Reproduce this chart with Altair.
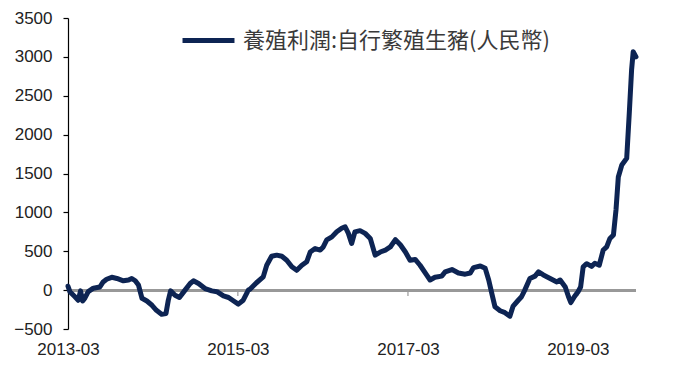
import altair as alt
import pandas as pd

dates = [
    "2013-03-01", "2013-03-09", "2013-03-31", "2013-04-14", "2013-04-24", "2013-05-03",
    "2013-05-13", "2013-05-27", "2013-06-18", "2013-07-16", "2013-07-30", "2013-08-14",
    "2013-09-05", "2013-09-27", "2013-10-25", "2013-11-16", "2013-11-30", "2013-12-15",
    "2013-12-29", "2014-01-13", "2014-02-03", "2014-02-25", "2014-03-16", "2014-04-07",
    "2014-04-26", "2014-05-06", "2014-05-16", "2014-06-04", "2014-06-23", "2014-07-17",
    "2014-08-08", "2014-08-22", "2014-09-13", "2014-10-11", "2014-11-09", "2014-12-01",
    "2014-12-29", "2015-01-20", "2015-02-11", "2015-03-03", "2015-03-24", "2015-04-15",
    "2015-04-22", "2015-05-20", "2015-06-18", "2015-07-03", "2015-07-24", "2015-08-15",
    "2015-09-06", "2015-09-27", "2015-10-19", "2015-11-09", "2015-12-01", "2015-12-22",
    "2016-01-06", "2016-01-27", "2016-02-18", "2016-03-02", "2016-03-17", "2016-04-08",
    "2016-04-29", "2016-05-20", "2016-06-04", "2016-06-18", "2016-07-02", "2016-07-16",
    "2016-08-07", "2016-08-29", "2016-09-20", "2016-10-11", "2016-11-02", "2016-11-24",
    "2016-12-15", "2017-01-06", "2017-01-28", "2017-02-18", "2017-03-10", "2017-04-01",
    "2017-04-22", "2017-05-20", "2017-06-04", "2017-06-25", "2017-07-24", "2017-08-08",
    "2017-09-06", "2017-10-04", "2017-11-02", "2017-11-24", "2017-12-08", "2018-01-06",
    "2018-01-27", "2018-02-11", "2018-02-26", "2018-03-10", "2018-04-01", "2018-04-22",
    "2018-05-13", "2018-05-27", "2018-06-18", "2018-07-02", "2018-07-16", "2018-08-07",
    "2018-08-29", "2018-09-13", "2018-10-04", "2018-11-02", "2018-12-01", "2018-12-15",
    "2019-01-06", "2019-01-20", "2019-01-30", "2019-02-14", "2019-03-02", "2019-03-13",
    "2019-03-24", "2019-04-08", "2019-04-29", "2019-05-13", "2019-06-01", "2019-06-18",
    "2019-07-03", "2019-07-17", "2019-08-01", "2019-08-12", "2019-08-22", "2019-09-06",
    "2019-09-27", "2019-10-08", "2019-10-18", "2019-10-25", "2019-11-06",
]
profit = [
    50, -20, -85, -130, -10, -140,
    -100, -20, 25, 40, 105, 140,
    165, 150, 120, 130, 150, 120,
    65, -105, -140, -195, -260, -310,
    -300, -130, -10, -65, -95, 0,
    85, 120, 85, 20, -10, -20,
    -75, -95, -140, -180, -130, 0,
    10, 95, 170, 320, 435, 450,
    435, 385, 300, 255, 320, 365,
    490, 535, 515, 555, 645, 685,
    750, 795, 815, 730, 600, 750,
    765, 730, 665, 450, 490, 515,
    555, 650, 580, 490, 385, 395,
    320, 195, 130, 165, 180, 235,
    265, 220, 205, 220, 290, 310,
    280, 130, -65, -215, -265, -290,
    -335, -205, -130, -85, 0, 150,
    180, 235, 195, 150, 105, 130,
    40, -85, -160, -85, -20, 40,
    300, 340, 305, 345, 320, 515,
    555, 665, 710, 1030, 1455, 1610,
    1695, 2270, 2830, 3065, 3000,
]
series_name = "養殖利潤:自行繁殖生豬(人民幣)"
y_ticks = [-500, 0, 500, 1000, 1500, 2000, 2500, 3000, 3500]
x_ticks = ["2013-03-01", "2015-03-01", "2017-03-01", "2019-03-01"]
x_start = "2013-03-01"
x_end = "2019-11-06"

df = pd.DataFrame({"date": dates, "profit": profit, "series": series_name})
ticks_df = pd.DataFrame({"date": x_ticks[1:]})

x_scale = alt.Scale(domain=[x_start, x_end])
y_scale = alt.Scale(domain=[-500, 3500], nice=False, zero=False)

x_axis = alt.Axis(
    values=[pd.Timestamp(t).isoformat() for t in x_ticks],
    format="%Y-%m", domain=False, ticks=False, grid=False,
    labelFontSize=17, labelColor="#222222", labelFont="Liberation Sans",
    labelPadding=12, title=None, labelFlush=False, labelOverlap=False,
)
y_axis = alt.Axis(
    values=y_ticks, format="d", domain=True, domainColor="#000000", domainWidth=1.2,
    ticks=True, tickColor="#000000", tickSize=5, tickWidth=1.2, grid=False,
    labelFontSize=17, labelColor="#222222", labelFont="Liberation Sans",
    labelPadding=11, title=None, labelOverlap=False,
)

zero_line = alt.Chart(df).mark_rule(color="#999999", strokeWidth=2).encode(
    y=alt.datum(0, scale=y_scale, axis=y_axis)
)

tick_marks = alt.Chart(ticks_df).mark_rule(color="#999999", strokeWidth=1.2).encode(
    x=alt.X("date:T", scale=x_scale, axis=x_axis),
    y=alt.datum(0, axis=y_axis),
    y2=alt.datum(-75),
)

line = alt.Chart(df).mark_line(strokeWidth=5, strokeCap="round", strokeJoin="round").encode(
    x=alt.X("date:T", scale=x_scale, axis=x_axis),
    y=alt.Y("profit:Q", scale=y_scale, axis=y_axis),
    color=alt.Color(
        "series:N",
        scale=alt.Scale(range=["#0d2453"]),
        legend=alt.Legend(
            title=None, orient="none", legendX=112, legendY=-6,
            symbolType="stroke", symbolSize=2700, symbolStrokeWidth=5,
            labelFontSize=22, labelFont="Noto Sans CJK TC", labelColor="#3a3a3a",
            labelOffset=6, labelLimit=0,
        ),
    ),
)

chart = alt.layer(zero_line, tick_marks, line).properties(
    width=568, height=311,
    autosize=alt.AutoSizeParams(type="none"),
    padding={"left": 60, "top": 10, "right": 20, "bottom": 28},
    background="white",
).configure_view(stroke=None).configure_axis(labelOverlap=False)

chart.save("out.html", embed_options={"renderer": "svg", "actions": False})
